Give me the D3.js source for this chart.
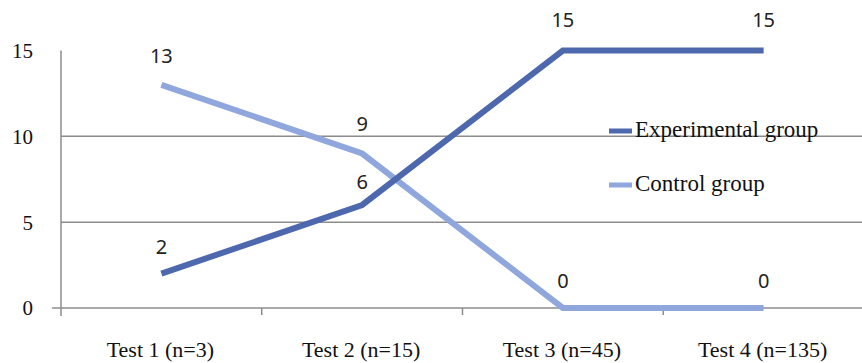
<!DOCTYPE html>
<html><head><meta charset="utf-8">
<script src="https://cdn.jsdelivr.net/npm/d3@7"></script>
<style>body{margin:0;background:#fff}svg{display:block}</style>
</head><body>
<script>
const categories = ["Test 1 (n=3)", "Test 2 (n=15)", "Test 3 (n=45)", "Test 4 (n=135)"];
const experimental = [2, 6, 15, 15];
const control = [13, 9, 0, 0];
const yTicks = [0, 5, 10, 15];
const seriesNames = ["Experimental group", "Control group"];
const colors = ["#4d68ad", "#8fa7dc"];

const W = 862, H = 363;
const svg = d3.select("body").append("svg").attr("width", W).attr("height", H);
const x = d3.scaleBand().domain(categories).range([61, 864]);
const y = d3.scaleLinear().domain([0, 15]).range([308, 50.5]);
const serif = "'Liberation Serif','Times New Roman',serif";

// gridlines
svg.append("g").selectAll("line").data(yTicks.filter(d => d > 0 && d < 15)).join("line")
  .attr("x1", 61).attr("x2", W).attr("y1", d => y(d)).attr("y2", d => y(d))
  .attr("stroke", "#8c8c8c").attr("stroke-width", 1.5);

// y axis
svg.append("line").attr("x1", 61).attr("x2", 61).attr("y1", y(15)).attr("y2", y(0) + 8)
  .attr("stroke", "#8c8c8c").attr("stroke-width", 1.5);
// x axis
svg.append("line").attr("x1", 52).attr("x2", W).attr("y1", y(0)).attr("y2", y(0))
  .attr("stroke", "#8c8c8c").attr("stroke-width", 1.5);
svg.append("g").selectAll("line").data(categories.slice(1)).join("line")
  .attr("x1", d => x(d)).attr("x2", d => x(d)).attr("y1", y(0)).attr("y2", y(0) + 7)
  .attr("stroke", "#8c8c8c").attr("stroke-width", 1.5);

// y tick labels
svg.append("g").selectAll("text").data(yTicks).join("text")
  .attr("x", 33).attr("y", d => y(d)).attr("dy", "0.35em").attr("text-anchor", "end")
  .attr("font-family", serif).attr("font-size", 21).attr("fill", "#111")
  .text(d => d);

// x labels
svg.append("g").selectAll("text").data(categories).join("text")
  .attr("x", d => x(d) + x.bandwidth() / 2 - 1).attr("y", 357).attr("text-anchor", "middle")
  .attr("font-family", serif).attr("font-size", 22).attr("fill", "#111")
  .text(d => d);

const line = d3.line().x((d, i) => x(categories[i]) + x.bandwidth() / 2).y(d => y(d));
[control, experimental].forEach((s, k) => {
  const c = k === 0 ? colors[1] : colors[0];
  svg.append("path").attr("d", line(s)).attr("fill", "none")
    .attr("stroke", c).attr("stroke-width", 6).attr("stroke-linejoin", "miter");
});

// data labels
const lbl = (s, dyFn) => svg.append("g").selectAll("text").data(s).join("text")
  .attr("x", (d, i) => x(categories[i]) + x.bandwidth() / 2)
  .attr("y", (d, i) => y(d) + dyFn(d, i)).attr("text-anchor", "middle")
  .attr("font-family", "'Noto Sans','DejaVu Sans',sans-serif").attr("font-size", 20).attr("fill", "#222")
  .text(d => d);
lbl(experimental, (d, i) => [-20, -16, -24, -24][i]);
lbl(control, (d, i) => [-22, -23, -20, -20][i]);

// legend
const lg = svg.append("g");
seriesNames.forEach((n, i) => {
  const yy = [131, 185][i];
  lg.append("line").attr("x1", 609).attr("x2", 632).attr("y1", yy).attr("y2", yy)
    .attr("stroke", colors[i]).attr("stroke-width", 5);
  lg.append("text").attr("x", 635).attr("y", yy + 6)
    .attr("font-family", serif).attr("font-size", 23).attr("fill", "#111").text(n);
});
</script>
</body></html>
